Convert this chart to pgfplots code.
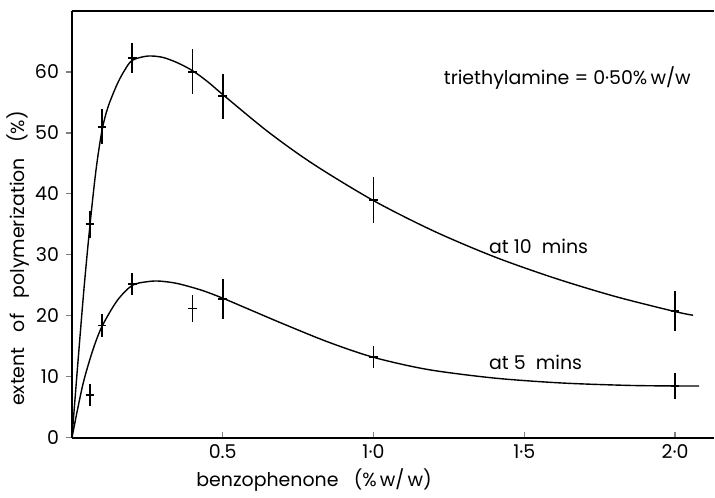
\documentclass[border=0pt]{standalone}
\usepackage{fontspec}
\setmainfont{Poppins}
\usepackage{pgfplots}
\pgfplotsset{compat=1.18}

\pgfplotstableread{
x    y     e
0.06 35.0  2.2
0.1  51.0  2.9
0.2  62.3  2.5
0.4  60.0  3.7
0.5  56.0  3.7
1.0  39.0  3.7
2.0  20.8  3.3
}\tenmin
\pgfplotstableread{
x    y     e
0.06  7.0  1.8
0.1  18.4  1.9
0.2  25.2  1.8
0.4  21.2  2.2
0.5  22.8  3.3
1.0  13.3  1.8
2.0   8.5  2.1
}\fivemin

\begin{document}
\begin{tikzpicture}
\begin{axis}[
  scale only axis, width=322pt, height=214pt,
  xmin=0, xmax=2.13, ymin=0, ymax=70,
  axis lines*=left, axis line style={line width=0.8pt},
  xtick={0.5,1,1.5,2}, xticklabels={0.5,1·0,1·5,2·0},
  ytick={0,10,...,60},
  x tick style={line width=0.6pt}, xtick align=inside,
  y tick style={line width=0.6pt}, ytick align=outside,
  major tick length=3pt,
  tick label style={font=\fontsize{9.5}{11}\selectfont},
  /pgf/number format/assume math mode=true,
  label style={font=\fontsize{9.5}{11}\selectfont},
  xlabel={benzophenone\ \ \ (\%\,w/\,w)},
  xlabel style={at={(ticklabel cs:0.377)}, anchor=north, yshift=2pt},
  ylabel={extent\ \ \ of\ \ \ polymerization\ \ \ (\%)},
  ylabel style={at={(ticklabel cs:0.42)}, anchor=south, yshift=-4pt},
  clip=false,
]
\draw[line width=0.8pt] (rel axis cs:0,1) -- (rel axis cs:1,1);
\path (rel axis cs:0,1) ++(0,5.5pt);

% fitted curves
\addplot[black, line width=0.7pt, smooth, tension=0.5] coordinates {
(0,0) (0.02,12.5) (0.04,24.5) (0.06,35) (0.08,44) (0.1,50.5) (0.12,54.3)
(0.15,58) (0.175,60.3) (0.2,61.9) (0.25,62.6) (0.3,62.4) (0.35,61.5)
(0.4,60.2) (0.45,58.4) (0.5,56.3) (0.65,50.2) (0.8,44.9)
(1.0,38.9) (1.2,33.9) (1.4,29.7) (1.6,26.2) (1.8,23.2) (2.0,20.7) (2.06,20.1)};
\addplot[black, line width=0.7pt, smooth, tension=0.5] coordinates {
(0,0) (0.02,5) (0.04,9.5) (0.07,14.5) (0.1,18.3) (0.15,22.5) (0.2,25.0)
(0.25,25.6) (0.29,25.7) (0.35,25.3) (0.43,24.2) (0.5,22.9) (0.6,20.8)
(0.7,18.7) (0.85,15.7) (1.0,13.2) (1.18,11.2) (1.4,9.8) (1.62,9.0)
(1.84,8.6) (2.0,8.5) (2.08,8.5)};

% measured points with error bars
\addplot[black, only marks, mark=+, mark size=2.2pt, line width=0.9pt,
  error bars/.cd, y dir=both, y explicit, error mark=none,
  error bar style={line width=0.9pt}]
  table[x=x, y=y, y error=e] {\tenmin};
\addplot[black, only marks, mark=+, mark size=2.2pt, line width=0.9pt,
  error bars/.cd, y dir=both, y explicit, error mark=none,
  error bar style={line width=0.9pt}]
  table[x=x, y=y, y error=e] {\fivemin};

\node[anchor=west, font=\fontsize{9.5}{11}\selectfont] at (axis cs:1.21,59) {triethylamine\ =\ 0·50\%\,w/w};
\node[anchor=west, font=\fontsize{9.5}{11}\selectfont] at (axis cs:1.36,31.4) {at\ 10\ \ mins};
\node[anchor=west, font=\fontsize{9.5}{11}\selectfont] at (axis cs:1.36,12.3) {at\ 5\ \ mins};
\end{axis}
\end{tikzpicture}
\end{document}
